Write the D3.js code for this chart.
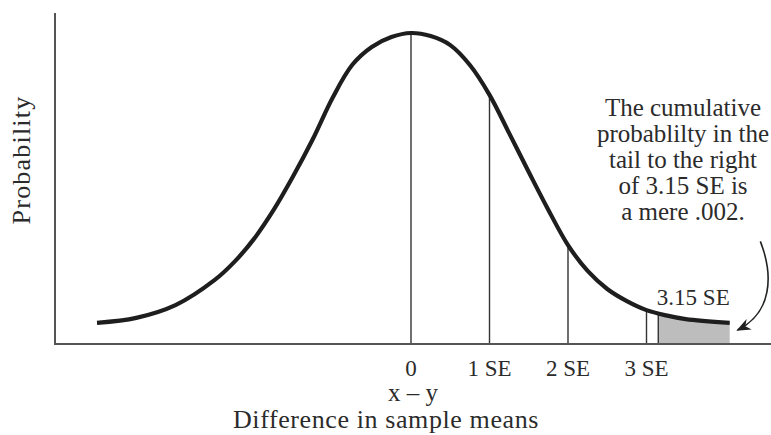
<!DOCTYPE html>
<html><head><meta charset="utf-8">
<script src="https://cdn.jsdelivr.net/npm/d3@7"></script>
<style>
body{margin:0;background:#fff}
svg{display:block}
text{font-family:"Liberation Serif","Times New Roman",serif;fill:#2b2b2b}
</style>
</head><body>
<svg id="c" width="771" height="435"></svg>
<script>
// Curve readings: x in SE units, relative height (peak = 1)
const curveX = [-4.0,-3.5,-3.0,-2.5,-2.25,-2.0,-1.75,-1.5,-1.25,-1.0,-0.75,-0.5,-0.25,0,0.25,0.5,0.75,1.0,1.25,1.5,1.75,2.0,2.25,2.5,2.75,3.0,3.25,3.5,4.06];
const curveY = [0.068,0.084,0.125,0.206,0.264,0.338,0.431,0.540,0.659,0.791,0.897,0.955,0.987,1.0,0.990,0.961,0.897,0.801,0.678,0.553,0.431,0.318,0.235,0.177,0.138,0.109,0.092,0.080,0.068];
// vertical drop lines
const dropX = [0,1,2,3,3.15];
const dropY = [1.0,0.801,0.318,0.109,0.098];
const tickValues = [0,1,2,3];
const tickLabels = ["0","1 SE","2 SE","3 SE"];
const tailFrom = 3.15;
const tailLabel = "3.15 SE";
const noteLines = ["The cumulative","probablilty in the","tail to the right","of 3.15 SE is","a mere .002."];
const xVarLabel = "x \u2013 y";
const xTitle = "Difference in sample means";
const yTitle = "Probability";

const svg = d3.select("#c");
const W = 771, H = 435;
const axisLeft = 55, axisTop = 13, axisY = 344;

const x = d3.scaleLinear().domain([-4,4]).range([97,725]);
const y = d3.scaleLinear().domain([0,1]).range([axisY,33]);

const pts = curveX.map((v,i)=>[v,curveY[i]]);

// shaded tail
const tailPts = [[tailFrom, dropY[4]]].concat(pts.filter(p=>p[0]>tailFrom));
svg.append("path")
  .datum(tailPts)
  .attr("fill","#bdbdbd")
  .attr("d", d3.area().x(d=>x(d[0])).y0(y(0)).y1(d=>y(d[1])).curve(d3.curveMonotoneX));

// drop lines
svg.selectAll("line.drop").data(dropX).join("line")
  .attr("class","drop")
  .attr("x1",d=>x(d)).attr("x2",d=>x(d))
  .attr("y1",y(0)).attr("y2",(d,i)=>y(dropY[i]))
  .attr("stroke","#333").attr("stroke-width",1.4);

// curve
svg.append("path")
  .datum(pts)
  .attr("fill","none")
  .attr("stroke","#1e1e1e")
  .attr("stroke-width",4.2)
  .attr("d", d3.line().x(d=>x(d[0])).y(d=>y(d[1])).curve(d3.curveCatmullRom.alpha(0.5)));

// axes
svg.append("line").attr("x1",axisLeft).attr("x2",axisLeft).attr("y1",axisTop).attr("y2",axisY+1)
  .attr("stroke","#555").attr("stroke-width",2);
svg.append("line").attr("x1",axisLeft-1).attr("x2",W).attr("y1",axisY).attr("y2",axisY)
  .attr("stroke","#555").attr("stroke-width",2);

// tick labels
svg.selectAll("text.tick").data(tickValues).join("text")
  .attr("class","tick")
  .attr("x",d=>x(d)).attr("y",376)
  .attr("text-anchor","middle")
  .attr("font-size",23)
  .text((d,i)=>tickLabels[i]);

svg.append("text").attr("x",x(0)+2).attr("y",401).attr("text-anchor","middle")
  .attr("font-size",25).text(xVarLabel);

svg.append("text").attr("x",386).attr("y",428).attr("text-anchor","middle")
  .attr("font-size",26).attr("letter-spacing",0.6).text(xTitle);

svg.append("text").attr("transform","translate(30,160) rotate(-90)")
  .attr("text-anchor","middle").attr("font-size",26).attr("letter-spacing",1.2).text(yTitle);

// tail label
svg.append("text").attr("x",x(3.15)+35).attr("y",305).attr("text-anchor","middle")
  .attr("font-size",23).text(tailLabel);

// annotation
const note = svg.append("text").attr("text-anchor","middle").attr("font-size",25);
noteLines.forEach((t,i)=>{
  note.append("tspan").attr("x",683).attr("y",116+i*26).text(t);
});

// arrow
svg.append("defs").append("marker")
  .attr("id","ah").attr("viewBox","0 0 10 10").attr("refX",9).attr("refY",5)
  .attr("markerWidth",9).attr("markerHeight",9).attr("orient","auto")
  .append("path").attr("d","M0,1 L10,5 L0,9 L3,5 Z").attr("fill","#222");
const a0 = [x(4.45), y(0.33)], c1 = [x(4.62), y(0.22)], c2 = [x(4.6), y(0.10)], a1 = [x(4.16), y(0.045)];
svg.append("path")
  .attr("d",`M${a0[0]},${a0[1]} C${c1[0]},${c1[1]} ${c2[0]},${c2[1]} ${a1[0]},${a1[1]}`)
  .attr("fill","none").attr("stroke","#222").attr("stroke-width",1.6)
  .attr("marker-end","url(#ah)");
</script>
</body></html>
